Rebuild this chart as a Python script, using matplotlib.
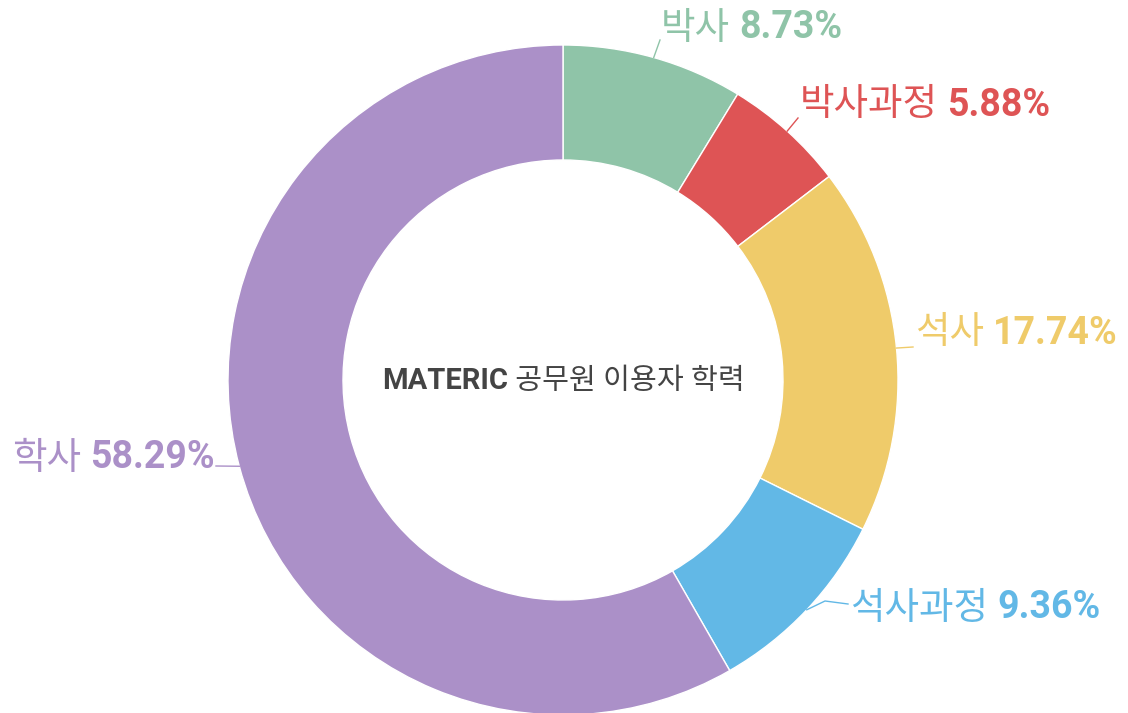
import numpy as np
import matplotlib
matplotlib.use("Agg")
import matplotlib.pyplot as plt

plt.rcParams['font.family'] = ['Roboto', 'Noto Sans CJK KR', 'DejaVu Sans']

# data
labels = ["박사", "박사과정", "석사", "석사과정", "학사"]
values = [8.73, 5.88, 17.74, 9.36, 58.29]
colors = ["#8fc4a8", "#de5455", "#efcb6a", "#62b8e6", "#ab90c8"]
title_bold = "MATERIC"
title_rest = " 공무원 이용자 학력"

W, H = 1128, 713
fig = plt.figure(figsize=(W / 100, H / 100), dpi=100)
ax = fig.add_axes([0, 0, 1, 1])

cx, cy = 563, H - 380
R = 335
wedges, _ = ax.pie(values, colors=colors, startangle=90, counterclock=False,
                   radius=R, center=(cx, cy), frame=True,
                   wedgeprops=dict(width=115, edgecolor="white", linewidth=1))
ax.set_xlim(0, W)
ax.set_ylim(0, H)
ax.axis("off")

# label anchors (pixel coords from top) and leader bends
label_pos = [(661, 28), (800, 105), (915, 333), (850, 608), (215, 458)]
leader_end = [[(660, 40)], [(798, 118)], [(913, 347)],
              [(825, 601), (848, 604)], [(216, 466)]]
fs = 27

fig.canvas.draw()
renderer = fig.canvas.get_renderer()

for w, lab, v, c, (lx, ly), pts in zip(wedges, labels, values, colors,
                                        label_pos, leader_end):
    ang = np.deg2rad((w.theta1 + w.theta2) / 2)
    sx, sy = cx + R * np.cos(ang), cy + R * np.sin(ang)
    xs = [sx] + [p[0] for p in pts]
    ys = [sy] + [H - p[1] for p in pts]
    ax.plot(xs, ys, color=c, lw=1)

    pct = f"{v:.2f}%"
    if lx > cx:
        t1 = ax.text(lx, H - ly, lab, color=c, fontsize=fs, ha="left",
                     va="center")
        bb = t1.get_window_extent(renderer)
        ax.text(bb.x1 + 9, H - ly, pct, color=c, fontsize=fs,
                fontweight="bold", ha="left", va="center")
    else:
        t2 = ax.text(lx, H - ly, pct, color=c, fontsize=fs,
                     fontweight="bold", ha="right", va="center")
        bb = t2.get_window_extent(renderer)
        ax.text(bb.x0 - 9, H - ly, lab, color=c, fontsize=fs, ha="right",
                va="center")

# center title
tb = ax.text(0, 0, title_bold, fontsize=21, fontweight="bold", color="#444444")
tr = ax.text(0, 0, title_rest, fontsize=21, color="#444444")
wb = tb.get_window_extent(renderer).width
wr = tr.get_window_extent(renderer).width
x0 = cx - (wb + wr) / 2
tb.set_position((x0, H - 381))
tb.set_va("center")
tr.set_position((x0 + wb, H - 381))
tr.set_va("center")

fig.savefig("out.png", dpi=100, facecolor="white")
